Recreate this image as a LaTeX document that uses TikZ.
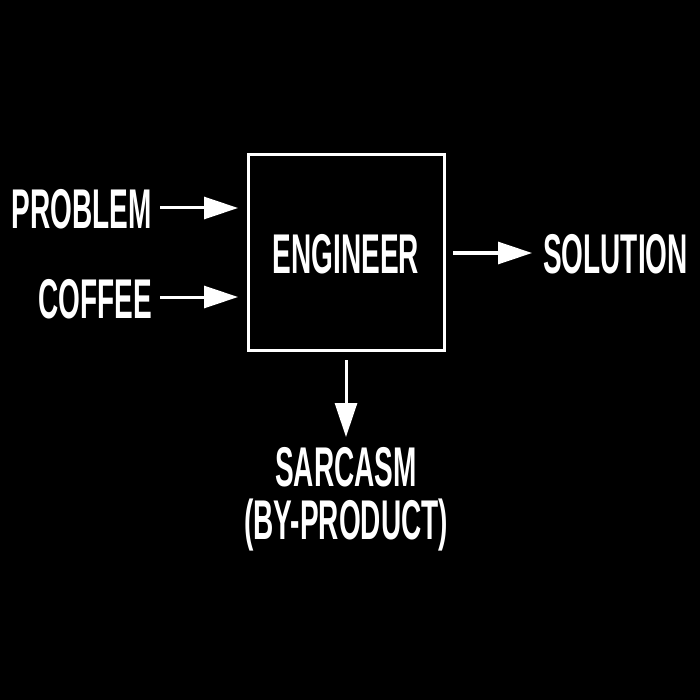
\documentclass[tikz,border=0pt]{standalone}
\usepackage{fontspec}
\setmainfont{Liberation Sans}[FakeStretch=0.5]
\usetikzlibrary{arrows.meta}
\begin{document}
\begin{tikzpicture}[x=1pt,y=-1pt,
  lbl/.style={text=white,font=\bfseries\fontsize{56}{58}\selectfont,inner sep=0pt,align=center},
  arr/.style={white,line width=3pt,-{Triangle[length=34pt,width=22pt]}}]
\fill[black] (0,0) rectangle (700,700);
\useasboundingbox (0,0) rectangle (700,700);
\draw[white,line width=3pt] (248,155) rectangle (444,350);
\node[lbl] (eng) at (346,254) {ENGINEER};
\node[lbl,anchor=east] (prob) at (152,209) {PROBLEM};
\node[lbl,anchor=east] (cof) at (152,299) {COFFEE};
\node[lbl,anchor=west] (sol) at (543,254) {SOLUTION};
\node[lbl,anchor=base,text depth=0pt] (sar) at (346,486) {SARCASM};
\node[lbl,anchor=base] (byp) at (346,539) {(BY-PRODUCT)};
\coordinate (p1) at (160,208); \coordinate (p2) at (238,208);
\coordinate (c1) at (160,297); \coordinate (c2) at (238,297);
\coordinate (s1) at (453,253); \coordinate (s2) at (532,253);
\coordinate (d1) at (346,360); \coordinate (d2) at (346,437);
\draw[arr] (p1) -- (p2);
\draw[arr] (c1) -- (c2);
\draw[arr] (s1) -- (s2);
\draw[arr] (d1) -- (d2);
\end{tikzpicture}
\end{document}
